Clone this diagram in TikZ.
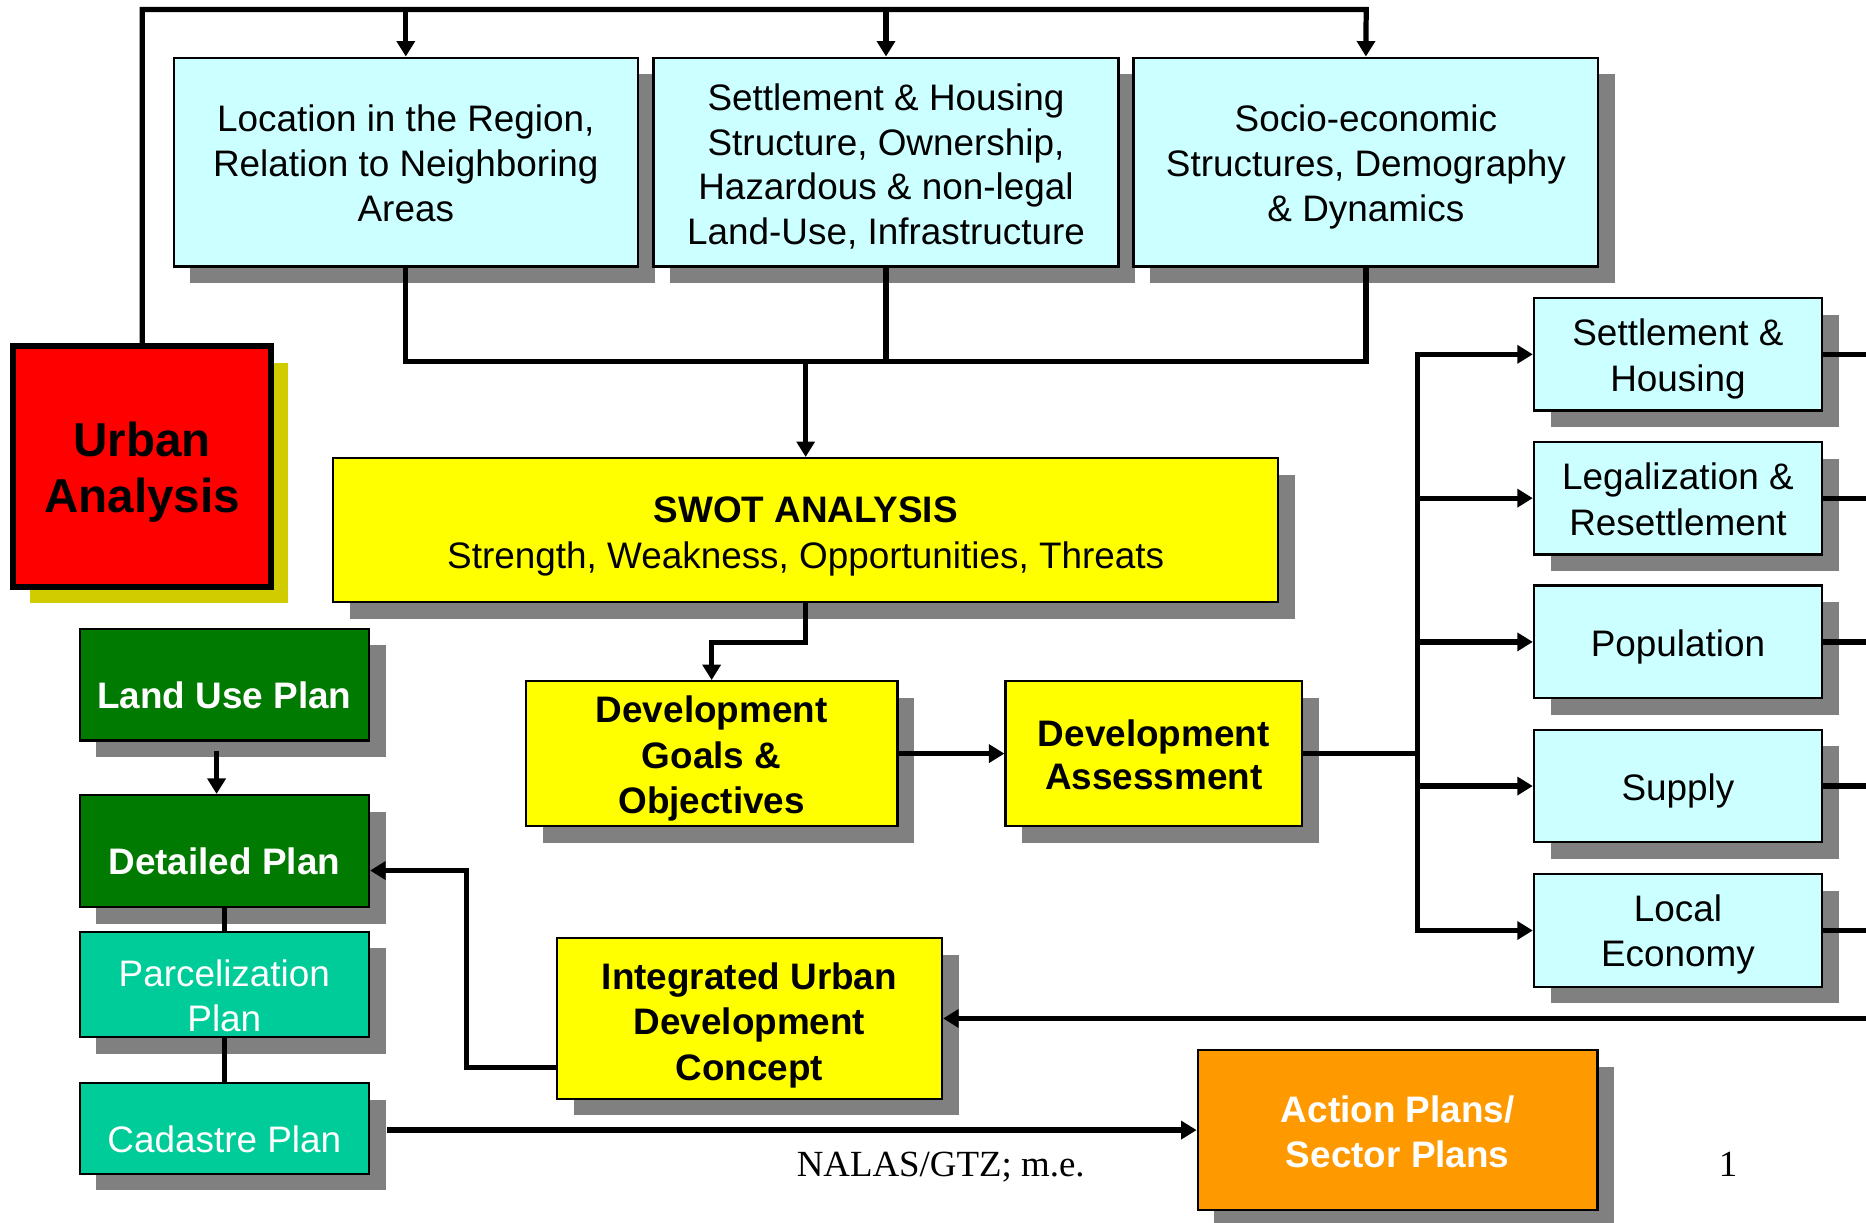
\documentclass[tikz,border=0pt]{standalone}
\usepackage{fontspec}
\setmainfont{Liberation Sans}
\newfontfamily\footserif{Liberation Serif}
\usetikzlibrary{arrows.meta,shadows,calc}
\definecolor{cyanbox}{HTML}{CCFFFF}
\definecolor{yelbox}{HTML}{FFFF00}
\definecolor{redbox}{HTML}{FF0000}
\definecolor{greenbox}{HTML}{007A00}
\definecolor{tealbox}{HTML}{00CC99}
\definecolor{orangebox}{HTML}{FF9900}
\definecolor{shadowgray}{HTML}{808080}
\definecolor{olive}{HTML}{D0CC00}
\newcommand\tb[2][2.3pt]{\raisebox{-#1}[\height][\depth]{\begin{tabular}{@{}c@{}}#2\end{tabular}}}
\begin{document}
\begin{tikzpicture}[x=0.5pt,y=-0.5pt,
  base/.style={draw=black, line width=1pt, inner sep=0pt, align=center,
    font=\fontsize{15.5}{19}\selectfont,
    drop shadow={shadow xshift=7pt, shadow yshift=-7pt, fill=shadowgray, opacity=1}},
  cbox/.style={base, fill=cyanbox},
  ybox/.style={base, fill=yelbox},
  gbox/.style={base, fill=greenbox},
  tbox/.style={base, fill=tealbox},
  obox/.style={base, fill=orangebox, text=white, font=\fontsize{15.5}{19}\selectfont\bfseries},
  rbox/.style={draw=black, line width=2.5pt, fill=redbox, inner sep=0pt, align=center,
    font=\fontsize{20}{23.5}\selectfont\bfseries,
    drop shadow={shadow xshift=7pt, shadow yshift=-7pt, fill=olive, opacity=1}},
  wtext/.style={inner sep=0pt, align=center, text=white, font=\fontsize{15.5}{19}\selectfont},
  conn/.style={line width=2.2pt, line join=miter, draw=black},
  arr/.style={conn, -{Triangle[length=6.5pt,width=7.5pt]}},
  foot/.style={inner sep=0pt, anchor=base, font=\footserif\fontsize{15.5}{19}\selectfont}
]
\useasboundingbox (0,0) rectangle (1568,1027);

% top analysis boxes
\node[cbox, minimum width=195pt, minimum height=87.75pt] (loc) at (341,136.25)
  {\tb[2.2pt]{Location in the Region,\\Relation to Neighboring\\Areas}};
\node[cbox, minimum width=195.5pt, minimum height=87.75pt, font=\fontsize{15.5}{18.7}\selectfont] (set) at (744.5,136.25)
  {\tb[2.7pt]{Settlement \& Housing\\Structure, Ownership,\\Hazardous \& non-legal\\Land-Use, Infrastructure}};
\node[cbox, minimum width=195.25pt, minimum height=87.75pt] (soc) at (1147.75,136.25)
  {\tb[2.15pt]{Socio-economic\\Structures, Demography\\\& Dynamics}};

% urban analysis
\node[rbox, minimum width=108.5pt, minimum height=101pt] (urban) at (119.5,392) {\tb[2.7pt]{Urban\\Analysis}};

% SWOT
\node[ybox, minimum width=397pt, minimum height=60.5pt] (swot) at (677,445.5)
  {\tb[2.6pt]{\textbf{SWOT ANALYSIS}\\Strength, Weakness, Opportunities, Threats}};

% development
\node[ybox, minimum width=156pt, minimum height=60.75pt, font=\fontsize{15.5}{19}\selectfont\bfseries] (goals) at (598,633.25)
  {\tb[2.3pt]{Development\\Goals \&\\Objectives}};
\node[ybox, minimum width=124.5pt, minimum height=60.75pt, font=\fontsize{15.5}{18}\selectfont\bfseries] (assess) at (969.5,633.25)
  {\tb[2.4pt]{Development\\Assessment}};

% sector boxes
\node[cbox, minimum width=121pt, minimum height=47.25pt] (sh) at (1410,297.75) {\tb[2.15pt]{Settlement \&\\Housing}};
\node[cbox, minimum width=121pt, minimum height=47.25pt] (lg) at (1410,418.6) {\tb[2.2pt]{Legalization \&\\Resettlement}};
\node[cbox, minimum width=121pt, minimum height=47.25pt] (pop) at (1410,539.4) {\tb[2.15pt]{Population}};
\node[cbox, minimum width=121pt, minimum height=47.25pt] (sup) at (1410,660.5) {\tb[2.15pt]{Supply}};
\node[cbox, minimum width=121pt, minimum height=47.25pt] (le) at (1410,781.9) {\tb[1.9pt]{Local\\Economy}};

% IUDC
\node[ybox, minimum width=161.75pt, minimum height=67.5pt, font=\fontsize{15.5}{19}\selectfont\bfseries] (iudc) at (629.75,855.8)
  {\tb[3.1pt]{Integrated Urban\\Development\\Concept}};

% plans on the left
\node[gbox, minimum width=121.5pt, minimum height=47pt] (lup) at (188.5,575.35) {};
\node[wtext, font=\fontsize{15.5}{19}\selectfont\bfseries] (luptxt) at ([yshift=-4.5pt]lup.center) {Land Use Plan};
\node[gbox, minimum width=121.5pt, minimum height=47pt] (det) at (188.5,715.15) {};
\node[wtext, font=\fontsize{15.5}{19}\selectfont\bfseries] (dettxt) at ([yshift=-4.5pt]det.center) {Detailed Plan};
\node[tbox, minimum width=121.5pt, minimum height=44.25pt] (parc) at (188.5,827.25) {};
\node[wtext] (parctxt) at ([yshift=-4.6pt]parc.center) {Parcelization\\Plan};
\node[tbox, minimum width=121.5pt, minimum height=38.15pt] (cad) at (188.5,948.15) {};
\node[wtext] (cadtxt) at ([yshift=-4.5pt]cad.center) {Cadastre Plan};

% action plans
\node[obox, minimum width=168pt, minimum height=67.2pt] (act) at (1174.5,949.6) {\tb[2.45pt]{Action Plans/\\Sector Plans}};

% footer
\node[foot] (src) at (790.5,989) {NALAS/GTZ; m.e.};
\node[foot] (pg) at (1452,989) {1};

% coordinates
\coordinate (tl) at (119,8);
\coordinate (tr) at (1148,8);
\coordinate (bl) at (341,304);
\coordinate (sg) at (598,540);
\coordinate (bus) at (1191,0);
\coordinate (edge) at (1568,0);
\coordinate (jx) at (392,897);
\coordinate (dpy) at (0,731.5);
\coordinate (cadout) at ([xshift=7pt]cad.east);
\coordinate (lupout) at ([xshift=-3.25pt,yshift=-4pt]lup.south);

% top distribution
\draw[arr] (urban.north) |- (tr) -- (soc.north);
\draw[arr] (loc.north |- tl) -- (loc.north);
\draw[arr] (set.north |- tl) -- (set.north);

% collection to SWOT
\draw[conn] (loc.south) -- (loc.south |- bl) -- (soc.south |- bl) -- (soc.south);
\draw[conn] (set.south) -- (set.south |- bl);
\draw[arr] (swot.north |- bl) -- (swot.north);

% SWOT to goals
\draw[arr] (swot.south) |- (sg) -- (goals.north);
\draw[arr] (goals.east) -- (assess.west);

% assessment to sectors
\draw[conn] (assess.east) -- (assess.east -| bus);
\draw[arr] (le.west -| bus) -- (sh.west -| bus) -- (sh.west);
\draw[arr] (sh.west -| bus) -- (le.west -| bus) -- (le.west);
\draw[arr] (lg.west -| bus) -- (lg.west);
\draw[arr] (pop.west -| bus) -- (pop.west);
\draw[arr] (sup.west -| bus) -- (sup.west);

% sector outputs to the right edge
\draw[conn] (sh.east) -- (sh.east -| edge);
\draw[conn] (lg.east) -- (lg.east -| edge);
\draw[conn] (pop.east) -- (pop.east -| edge);
\draw[conn] (sup.east) -- (sup.east -| edge);
\draw[conn] (le.east) -- (le.east -| edge);

% return to IUDC
\draw[arr] (iudc.east -| edge) -- (iudc.east);

% IUDC to detailed plan
\draw[arr] (iudc.west |- jx) -- (jx) |- (det.east |- dpy);

% left chain
\draw[arr] (lupout) -- (lupout |- det.north);
\draw[conn] (det.south) -- (parc.north);
\draw[conn] (parc.south) -- (cad.north);

% cadastre to action plans
\draw[arr] (cadout |- act.west) -- (act.west);

\end{tikzpicture}
\end{document}
